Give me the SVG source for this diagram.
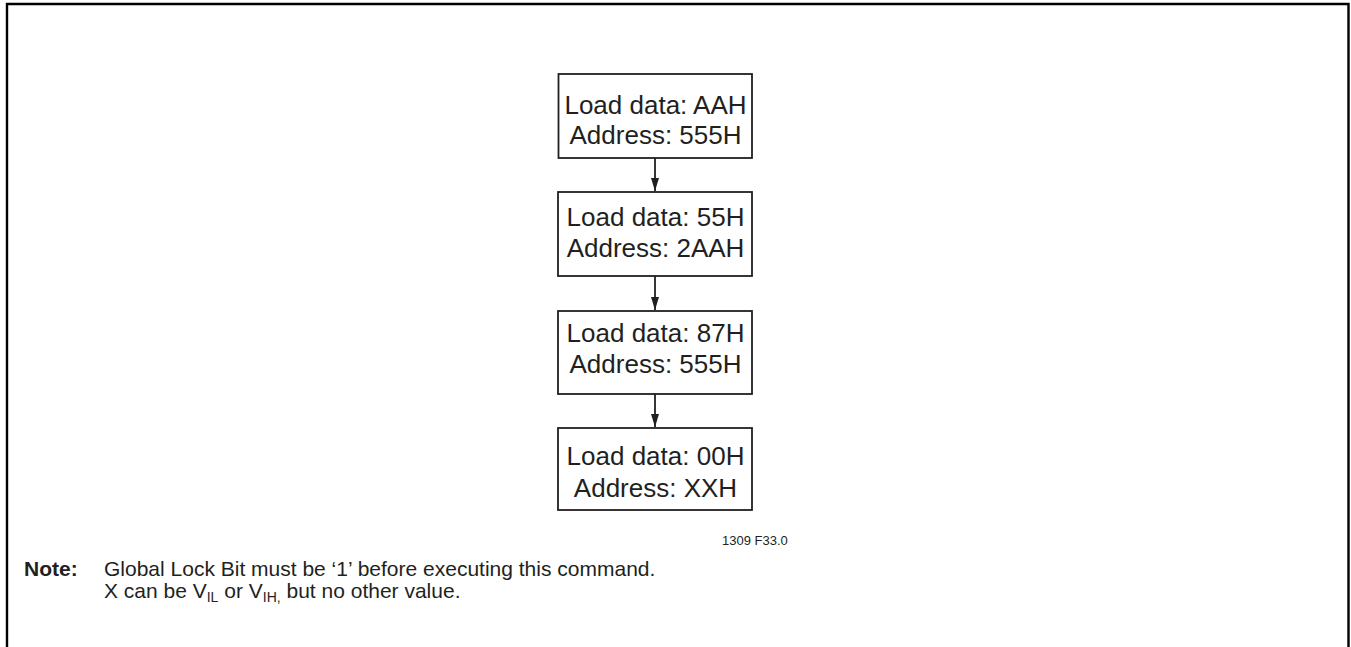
<svg xmlns="http://www.w3.org/2000/svg" width="1351" height="647" viewBox="0 0 1351 647">
<defs>
<style>
.box{fill:#fff;stroke:#231f20;stroke-width:1.8}
.t{font-family:"Liberation Sans",Arial,sans-serif;font-size:26px;fill:#231f20;text-anchor:middle}
.conn{stroke:#231f20;stroke-width:1.8;fill:none}
.note{font-family:"Liberation Sans",Arial,sans-serif;font-size:21px;fill:#231f20}
</style>
<marker id="ah" markerWidth="14" markerHeight="10" refX="13" refY="4.5" orient="auto" markerUnits="userSpaceOnUse">
<path d="M0,0.5 L13,4.5 L0,8.5 Z" fill="#231f20"/>
</marker>
</defs>
<rect width="1351" height="647" fill="#fff"/>
<path d="M7,647 L7,4 L1348.5,4 L1348.5,647" fill="none" stroke="#000" stroke-width="2.4"/>
<g id="connectors">
<line class="conn" x1="655" y1="158" x2="655" y2="191" marker-end="url(#ah)"/>
<line class="conn" x1="655" y1="276" x2="655" y2="310" marker-end="url(#ah)"/>
<line class="conn" x1="655" y1="394" x2="655" y2="427" marker-end="url(#ah)"/>
</g>
<g id="node1">
<rect class="box" x="558.5" y="74" width="193.5" height="84"/>
<text class="t" x="655.5" y="114">Load data: AAH</text>
<text class="t" x="655.5" y="144">Address: 555H</text>
</g>
<g id="node2">
<rect class="box" x="558" y="192" width="194" height="84"/>
<text class="t" x="655.5" y="226">Load data: 55H</text>
<text class="t" x="655.5" y="257">Address: 2AAH</text>
</g>
<g id="node3">
<rect class="box" x="558" y="311" width="194" height="83"/>
<text class="t" x="655.5" y="342">Load data: 87H</text>
<text class="t" x="655.5" y="373">Address: 555H</text>
</g>
<g id="node4">
<rect class="box" x="558" y="428" width="194" height="82"/>
<text class="t" x="655.5" y="465">Load data: 00H</text>
<text class="t" x="655.5" y="497">Address: XXH</text>
</g>
<text x="722" y="545" font-family="Liberation Sans, Arial, sans-serif" font-size="13" fill="#231f20">1309 F33.0</text>
<g id="note">
<text class="note" x="24" y="576"><tspan font-weight="bold">Note:</tspan></text>
<text class="note" x="104" y="576">Global Lock Bit must be ‘1’ before executing this command.</text>
<text class="note" x="104" y="598">X can be V<tspan font-size="14" dy="4">IL</tspan><tspan dy="-4"> or V</tspan><tspan font-size="14" dy="4">IH,</tspan><tspan dy="-4"> but no other value.</tspan></text>
</g>
</svg>
